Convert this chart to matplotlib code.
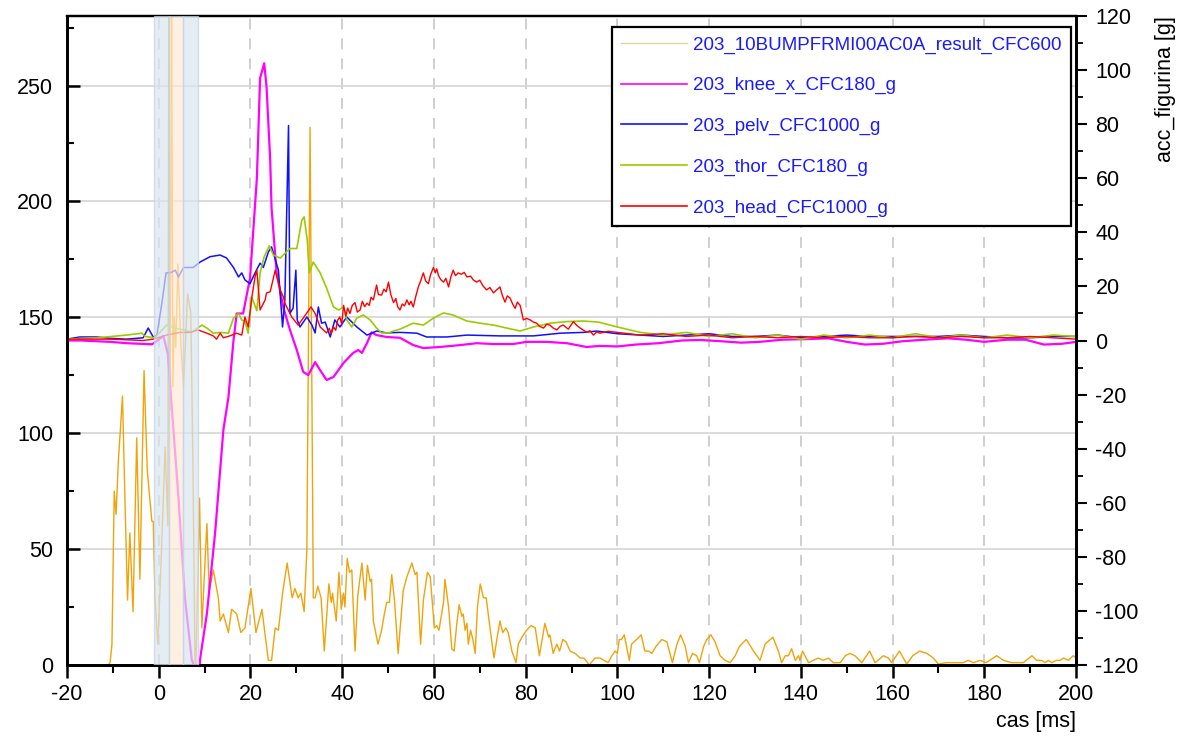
import matplotlib
matplotlib.use("Agg")
import matplotlib.pyplot as plt
from matplotlib.ticker import MultipleLocator

plt.rcParams['font.family'] = ['Liberation Sans', 'DejaVu Sans']
plt.rcParams['axes.unicode_minus'] = False

# bumper force result (left axis)
bump_t = [-20, -11, -10.6, -10.2, -9.7, -9.3, -8.8, -7.9, -7.3, -6.8, -6.3, -5.6, -4.8, -4.1,
          -3.2, -2.5, -1.5, -1.2, -0.8, -0.2, 0.5, 1.4, 2.0, 2.2, 2.5, 2.8, 3.1, 3.4, 3.7, 4.2,
          4.8, 5.4, 6.3, 7.0, 7.5, 7.9, 8.1, 8.9, 9.4, 10.5, 11.0, 11.9, 13.0, 13.4, 14.1, 14.5,
          15.2, 15.9, 17.0, 17.9, 18.8, 20.1, 21.2, 22.5, 23.9, 24.6, 25.4, 26.1, 27.0, 28.0,
          29.1, 29.7, 30.4, 31.0, 31.7, 32.3, 33.0, 33.7, 34.1, 34.7, 35.4, 36.1, 37.1, 37.6,
          37.9, 38.7, 39.3, 39.8, 40.3, 40.6, 41.1, 41.6, 42.1, 42.8, 43.4, 44.3, 45.0, 45.5,
          46.1, 46.4, 46.8, 47.8, 48.6, 49.1, 49.7, 50.3, 50.8, 51.4, 52.2, 53.3, 54.1, 55.2,
          55.9, 56.3, 57.1, 57.7, 58.6, 59.2, 60.1, 60.6, 61.1, 62.1, 62.4, 63.2, 63.9, 64.4,
          65.0, 65.5, 66.1, 66.4, 66.8, 67.2, 67.5, 68.0, 68.5, 69.0, 69.5, 70.1, 70.8, 71.4,
          72.1, 73.1, 73.8, 74.4, 75.0, 75.7, 76.2, 77.0, 77.9, 78.4, 79.2, 80.2, 81.2, 82.1,
          83.0, 83.6, 84.2, 85.0, 85.3, 86.0, 86.8, 87.4, 88.1, 88.8, 89.7, 90.8, 91.9, 92.7,
          93.9, 95.1, 96.2, 97.1, 98.0, 98.8, 99.5, 100.0, 100.4, 100.9, 101.5, 102.0, 102.6,
          103.1, 104.2, 105.2, 106.0, 106.8, 107.5, 108.4, 109.7, 110.8, 112.0, 113.0, 113.8,
          114.8, 115.5, 116.4, 117.3, 117.9, 118.8, 119.5, 120.4, 121.3, 122.4, 123.5, 124.6,
          125.7, 126.6, 128.1, 129.7, 131.1, 132.2, 133.9, 135.1, 135.8, 136.6, 137.3, 138.0,
          138.8, 139.5, 139.8, 140.4, 140.9, 141.7, 142.7, 143.8, 144.9, 146.0, 147.1, 148.6,
          149.7, 150.7, 151.8, 153.3, 155.0, 156.2, 158.0, 159.1, 159.8, 161.5, 163.1, 164.4,
          165.9, 167.5, 168.9, 170.0, 171.7, 172.9, 174.0, 175.4, 176.5, 177.6, 179.1, 180.4,
          182.7, 184.2, 186.0, 187.1, 188.5, 190.4, 191.4, 192.5, 193.3, 194.0, 194.7, 195.7,
          196.5, 197.3, 198.3, 199.4, 200.0]
bump_v = [0, 0, 1, 9, 75, 65, 88, 116, 66, 28, 57, 23, 98, 37,
          127, 84, 62, 62, 29, 9, 44, 94, 60, 290, 110, 290, 120, 150, 137, 173,
          139, 120, 160, 152, 80, 2, 0, 72, 16, 61, 32, 41, 29, 19, 22, 19,
          14, 24, 22, 14, 16, 33, 14, 24, 2, 2, 16, 15, 31, 44,
          29, 33, 29, 31, 23, 50, 232, 29, 29, 34, 29, 6, 35, 27,
          31, 19, 40, 24, 31, 25, 46, 40, 41, 6, 30, 44, 28, 43,
          36, 37, 19, 9, 15, 21, 27, 27, 39, 28, 5, 32, 38, 44,
          39, 40, 9, 28, 40, 38, 16, 17, 15, 27, 37, 25, 7, 6,
          18, 26, 21, 22, 15, 18, 9, 15, 11, 5, 25, 35, 29, 29,
          18, 3, 12, 19, 14, 16, 14, 6, 1, 9, 12, 15, 17, 16,
          4, 11, 18, 12, 13, 5, 9, 6, 11, 10, 6, 5, 3, 3,
          0, 3, 3, 2, 1, 4, 6, 5, 11, 11, 13, 8, 2,
          9, 11, 13, 6, 6, 5, 8, 11, 10, 1, 9, 13,
          8, 1, 5, 4, 1, 8, 11, 13, 10, 4, 2, 1,
          4, 8, 11, 6, 2, 9, 12, 6, 1, 4, 4, 7,
          2, 4, 2, 6, 4, 1, 2, 3, 2, 3, 1, 1,
          4, 5, 4, 1, 6, 1, 4, 3, 1, 6, 0.4, 4,
          6, 5, 3, 0.4, 1, 1, 1, 1, 2, 1, 2, 1,
          4, 2, 1, 1, 1, 4, 2, 2, 1, 2, 1, 2,
          2, 3, 2, 4, 3]

# knee acceleration (right axis)
knee_t = [-20, -17, -10.6, -6.9, -1.5, -0.8, 1.0, 2.0, 3.2, 4.3, 5.7, 7.2, 8.1, 8.9, 9.0,
          10.5, 12.3, 14.1, 15.2, 16.3, 17.0, 18.4, 19.9, 21.4, 22.1, 23.0, 23.5, 24.3,
          24.6, 25.7, 27.2, 28.6, 30.1, 31.5, 32.6, 34.1, 35.2, 36.6, 38.1, 40.3, 42.4,
          43.5, 44.3, 45.4, 46.4, 47.5, 49.7, 52.6, 55.5, 57.7, 61.3, 65.7, 69.3, 73.0,
          77.3, 80.2, 84.6, 89.0, 93.3, 96.2, 100, 104, 109, 114, 118, 122, 127, 131, 136,
          141, 146, 150, 154, 158, 162, 167, 172, 176, 180, 185, 189, 193, 197, 200]
knee_v = [0, 0, -0.5, -1, -1.4, -0.7, 1.7, -5, -33, -58, -95, -118, -122, -122, -118,
          -101, -71, -33, -21, 0, 10, 10, 23, 60, 97, 102.5, 94, 67,
          49, 25, 12, 4, -3.5, -11.6, -12.8, -8, -11, -14.6, -13.5, -8.3, -4.6,
          -3.5, -4.6, -1, 3, 2, 1.3, 1, -1.7, -2.8, -2.4, -1.7, -1, -1.3,
          -1.3, -0.5, -0.5, -1, -2.4, -2, -2.2, -1.5, -1, 0, 0.2, -0.2, -0.8, -0.5, 0.3,
          0.5, 0.8, -0.5, -1.5, -1.2, -0.3, 0.3, 0.8, 0.3, -0.5, 0.3, 0.3, -1.5, -1.2, -0.5]

# pelvis acceleration (right axis)
pelv_t = [-20, -17.2, -13.5, -10.6, -7, -3.4, -2.3, -1.2, -0.4, 0.7, 1.6, 2.5, 3.6, 4.3, 5.4,
          7.5, 9.0, 11.2, 13.4, 14.8, 16.3, 17.4, 18.1, 18.8, 19.9, 21.0, 22.1, 22.8, 23.9,
          24.6, 26.1, 27.0, 27.5, 28.3, 28.6, 29.3, 29.9, 30.2, 30.8, 32.3, 33.4, 34.1, 34.8,
          35.5, 36.3, 37.4, 38.4, 39.5, 41.0, 43.2, 45.4, 47.5, 49.7, 52.6, 56.3, 58.4, 62.8,
          67.2, 74.4, 81.7, 87.5, 92.6, 95.5, 100, 105, 110, 115, 120, 125, 130, 135, 140,
          145, 150, 155, 160, 165, 170, 175, 180, 185, 190, 195, 200]
pelv_v = [0.5, 1.3, 1.3, 0.8, 0.5, 1, 4.6, 1.3, 2, 14, 25, 25, 26, 23.5, 27,
          27, 29, 31, 31.6, 30.5, 27, 23.5, 25, 22.4, 21, 25, 28.6, 27, 32.7,
          34.6, 26, 5, 15, 79.5, 10, 12, 26, 7.6, 5, 8.7, 5.7, 2.8, 12.4,
          6.4, 6.8, 1.3, 7.6, 5, 8.7, 5, 2, 3.5, 2.8, 3, 2.7, 1.3, 1.3,
          2, 1.7, 1.7, 2.7, 3, 3.5, 2.5, 2, 1.5, 2, 2.5, 1.5, 1.5, 2, 1,
          1.5, 2, 1.5, 1.5, 1.5, 1.5, 2, 1.5, 1, 1, 1.5, 1.5]

# thorax acceleration (right axis)
thor_t = [-20, -13.5, -7.0, -3.7, -3.0, -0.8, 1.7, 3.6, 5.4, 7.2, 9.4, 10.5, 11.9, 13.4,
          15.2, 16.3, 17.4, 18.1, 18.8, 19.5, 20.3, 21.4, 22.1, 23.0, 24.1, 25.0, 26.5,
          28.6, 30.1, 31.2, 31.7, 32.4, 32.8, 33.7, 35.2, 36.6, 38.1, 39.2, 40.3, 41.0,
          42.1, 43.2, 44.6, 46.1, 47.5, 48.6, 50.1, 51.2, 52.6, 55.5, 57.7, 59.9, 62.1,
          64.2, 67.2, 70.1, 73.0, 75.9, 78.8, 81.7, 85.3, 89.0, 92.6, 95.9, 100, 105, 110,
          115, 120, 125, 130, 135, 140, 145, 150, 155, 160, 165, 170, 175, 180, 185, 190,
          195, 200]
thor_v = [0.5, 1, 2, 2.7, 1.5, 1, 5.7, 4.6, 3.9, 3, 5.7, 4.6, 2.7, 3,
          2.7, 8.3, 10, 7.6, 7, 2.7, 16, 11, 25, 31, 35, 31.6, 30.5,
          34, 34, 44.5, 45.7, 37, 25, 29, 25, 19.4, 12.4, 11.3, 12.4, 7.6,
          5, 8.3, 9.4, 7.6, 4.6, 2.8, 2.8, 3.5, 4.2, 6.4, 5.7, 8.3, 10.2,
          9.4, 7.2, 6.4, 5.7, 4.6, 3.5, 5, 6.4, 7, 7.2, 6.8, 5, 3, 2,
          3, 1.5, 2.5, 1, 2, 0.5, 2, 1, 2, 1, 2.5, 1, 2, 1, 2, 1,
          2, 1.5]

# head acceleration (right axis)
head_t = [-20, -10.6, -3.4, -1.2, 1.7, 4.6, 6.8, 8.6, 10.5, 11.9, 12.6, 13.4, 14.1, 15.5,
          17.0, 18.1, 18.8, 19.5, 20.3, 21.0, 21.4, 22.1, 23.2, 23.5, 24.3, 25.4, 26.5,
          27.2, 27.5, 29.0, 30.4, 31.5, 33.2, 34.1, 35.2, 36.6, 37.2, 37.6, 38.1, 38.6,
          39.0, 39.5, 39.9, 40.3, 40.8, 41.2, 41.7, 42.2, 42.8, 43.3, 43.9, 44.4, 44.9,
          45.4, 45.9, 46.3, 46.8, 47.5, 47.9, 48.6, 49.1, 49.6, 50.1, 50.6, 51.2, 51.7,
          52.1, 52.6, 53.1, 53.6, 54.1, 54.6, 55.0, 55.5, 56.0, 56.6, 57.1, 57.7, 58.2,
          58.8, 59.3, 59.9, 60.3, 60.6, 61.0, 61.5, 62.1, 62.6, 63.2, 63.7, 64.2, 64.7,
          65.3, 66.0, 66.6, 67.2, 68.0, 68.6, 69.3, 70.0, 70.7, 71.5, 72.2, 73.0, 73.6,
          74.4, 74.9, 75.5, 76.0, 76.6, 77.2, 77.7, 78.2, 78.8, 79.2, 79.5, 80.2, 81.0,
          81.7, 82.4, 83.1, 83.9, 84.6, 85.3, 86.0, 86.8, 87.5, 88.2, 89.3, 90.4, 91.2,
          91.9, 92.6, 93.3, 94.0, 94.8, 95.5, 96.2, 98, 100, 105, 110, 115, 120, 125,
          130, 135, 140, 145, 150, 155, 160, 165, 170, 175, 180, 185, 190, 195, 200]
head_v = [0.5, 0.5, 0, 0.5, 2, 3, 3, 3.9, 2.7, 1.7, 0.5, 2.7, 1, 1.7,
          2.7, 2, 8.7, 5, 16, 23.5, 26, 11.3, 15, 17.6, 18, 26, 18.7,
          16, 13.8, 8.7, 5.7, 8.3, 12.4, 10, 5, 2.8, 4.5, 2.5, 5, 3.8,
          7.5, 8.7, 6, 13, 9, 12, 10, 13, 14, 10.5, 11.3, 14.5, 12.5,
          13.8, 13, 16, 15, 20.5, 17, 16.8, 19, 18, 21.6, 17, 14, 15.5,
          12.5, 11.3, 13.5, 12.8, 15, 13.2, 14.5, 12.4, 16, 19.8, 22, 25, 22,
          21, 24.5, 27, 25, 26.5, 24, 22.5, 21.6, 23, 19.8, 23.5, 26, 24,
          25, 24.5, 25.2, 23.5, 23.8, 22.4, 21.6, 22.3, 20.2, 18.7, 19.6, 17.6, 18.6,
          19.8, 16.8, 14.2, 16.5, 15.7, 13.4, 11.9, 14.2, 13, 10, 7.6, 8.2, 7.6,
          6.8, 6.4, 5.2, 4.6, 6.0, 5.7, 4.6, 3.9, 5.2, 5.7, 4.2, 7, 5.5,
          4.6, 3.8, 3.1, 3.6, 2, 3.2, 2.7, 3.4, 3, 2, 2.5, 1.5, 2, 1,
          1.5, 1, 1.5, 1, 1.5, 1, 1, 1.5, 1, 1.5, 1, 1, 1.5, 1, 0.5]

labels = ["203_10BUMPFRMI00AC0A_result_CFC600", "203_knee_x_CFC180_g",
          "203_pelv_CFC1000_g", "203_thor_CFC180_g", "203_head_CFC1000_g"]

# marked time windows [ms]
windows = [(-1.0, 2.3, '#d9e4f0'), (2.3, 5.3, '#fde9d6'), (5.3, 8.6, '#d9e4f0')]

fig = plt.figure(figsize=(11.89, 7.36), dpi=100)
ax = fig.add_axes([67 / 1189, 1 - 665 / 736, (1076 - 67) / 1189, (665 - 16) / 736])
ax2 = ax.twinx()

l0, = ax.plot(bump_t, bump_v, color='#f0a30a', lw=1.0)
l1, = ax2.plot(knee_t, knee_v, color='#ff00ff', lw=1.6)
l2, = ax2.plot(pelv_t, pelv_v, color='#1010ff', lw=1.1)
l3, = ax2.plot(thor_t, thor_v, color='#99cc00', lw=1.2)
l4, = ax2.plot(head_t, head_v, color='#ff0000', lw=1.0)

for a, b, c in windows:
    ax2.axvspan(a, b, facecolor=c, edgecolor='#c5d3e3', lw=1.0, alpha=0.7, zorder=5)

ax.set_xlim(-20, 200)
ax.set_ylim(0, 280)
ax2.set_ylim(-120, 120)

ax.xaxis.set_major_locator(MultipleLocator(20))
ax.xaxis.set_minor_locator(MultipleLocator(10))
ax.yaxis.set_major_locator(MultipleLocator(50))
ax.yaxis.set_minor_locator(MultipleLocator(25))
ax2.yaxis.set_major_locator(MultipleLocator(20))
ax2.yaxis.set_minor_locator(MultipleLocator(10))

ax.tick_params(axis='y', which='both', left=True, right=False, labelright=False)
ax.tick_params(axis='x', which='both', top=False, labeltop=False)
ax2.tick_params(axis='y', which='both', left=False, labelleft=False, right=True)
ax2.tick_params(axis='x', which='both', bottom=False, top=False,
                labelbottom=False, labeltop=False)

ax.tick_params(axis='y', which='major', direction='in', length=9, width=1.8,
               labelsize=15.5, pad=10)
ax.tick_params(axis='y', which='minor', direction='in', length=5, width=1.5)
ax.tick_params(axis='x', which='major', direction='out', length=9, width=1.8,
               labelsize=15.5, pad=5)
ax.tick_params(axis='x', which='minor', direction='out', length=6, width=1.5)
ax2.tick_params(axis='y', which='major', direction='out', length=8, width=1.5,
                labelsize=15.5, pad=6)
ax2.tick_params(axis='y', which='minor', direction='out', length=5, width=1.3)

for a in (ax, ax2):
    for side in ('left', 'bottom', 'right'):
        a.spines[side].set_linewidth(2.0)
    a.spines['top'].set_linewidth(1.6)

# grid: solid horizontals on the left scale, dashed verticals every 20 ms
ax.grid(axis='y', which='major', color='#d4d4d4', lw=1.2, ls='-')
ax.grid(axis='x', which='major', color='#cccccc', lw=1.3, ls=(0, (6, 5)))
ax.set_axisbelow(True)

ax.set_xlabel('cas [ms]', fontsize=15.5, loc='right', labelpad=4)
ax2.set_ylabel('acc_figurina [g]', fontsize=15.5, loc='top', labelpad=12)

leg = ax2.legend([l0, l1, l2, l3, l4], labels, loc='upper right',
                 bbox_to_anchor=(1071 / 1189, 1 - 27 / 736), bbox_transform=fig.transFigure,
                 fontsize=13.5, frameon=True, fancybox=False, framealpha=1,
                 edgecolor='black', handlelength=3.5, handletextpad=0.35,
                 labelspacing=1.25, borderpad=0.5, borderaxespad=0)
leg.get_frame().set_linewidth(1.6)
leg.set_zorder(10)
for txt in leg.get_texts():
    txt.set_color('#1a1aff')
leg.get_lines()[0].set_color('#f0d090')
for h in leg.get_lines()[1:]:
    h.set_linewidth(1.2)

fig.savefig('out.png', dpi=100)
